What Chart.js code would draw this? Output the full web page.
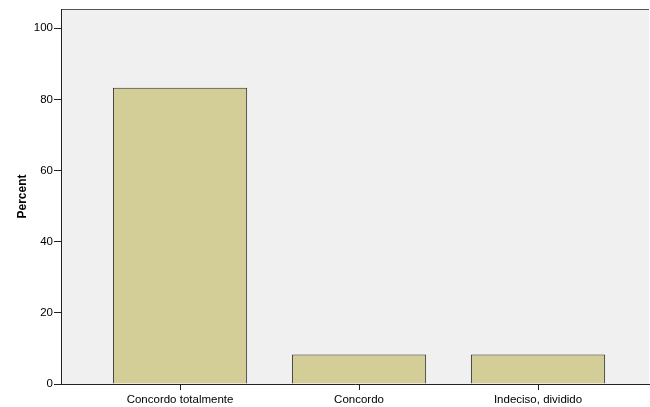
<!DOCTYPE html>
<html>
<head>
<meta charset="utf-8">
<script src="https://cdn.jsdelivr.net/npm/chart.js@4/dist/chart.umd.min.js"></script>
<style>
  html, body { margin: 0; padding: 0; background: #fff; }
  #wrap { width: 650px; height: 407px; }
</style>
</head>
<body>
<div id="wrap"><canvas id="myChart"></canvas></div>
<script>
const categories = ['Concordo totalmente', 'Concordo', 'Indeciso, dividido'];
const percentValues = [83.3, 8.3, 8.3];
const yTicks = [0, 20, 40, 60, 80, 100];

const ctx = document.getElementById('myChart').getContext('2d');

// grey plot background plus the top frame line, SPSS style
const plotFrame = {
    id: 'plotFrame',
    beforeDraw(chart) {
        const a = chart.chartArea;
        const c = chart.ctx;
        c.save();
        c.fillStyle = '#f0f0f0';
        c.fillRect(a.left, a.top, a.right - a.left, a.bottom - a.top);
        c.strokeStyle = '#555555';
        c.lineWidth = 1;
        c.beginPath();
        c.moveTo(a.left, a.top + 0.5);
        c.lineTo(a.right, a.top + 0.5);
        c.stroke();
        c.restore();
    }
};

const myChart = new Chart(ctx, {
    type: 'bar',
    data: {
        datasets: [{
            label: 'Percent',
            data: percentValues.map((v, i) => ({ x: i, y: v })),
            backgroundColor: '#d3ce98',
            borderColor: '#2a2a2a',
            borderWidth: 1,
            categoryPercentage: 1,
            barPercentage: 0.75
        }]
    },
    plugins: [plotFrame],
    options: {
        responsive: true,
        maintainAspectRatio: false,
        animation: false,
        layout: { padding: { top: 9, right: 1, left: 0, bottom: 0 } },
        plugins: {
            legend: { display: false },
            tooltip: { enabled: false }
        },
        scales: {
            x: {
                type: 'linear',
                offset: false,
                min: -0.665,
                max: 2.62,
                afterBuildTicks: (axis) => { axis.ticks = categories.map((_, i) => ({ value: i })); },
                afterFit: (axis) => { axis.height = 23; },
                ticks: {
                    callback: (v) => categories[v],
                    color: '#000',
                    font: { family: 'Liberation Sans', size: 11.5 },
                    padding: 3,
                    maxRotation: 0,
                    autoSkip: false
                },
                grid: { offset: false, drawOnChartArea: false, tickLength: 6, color: '#222' },
                border: { display: true, color: '#222', width: 1 }
            },
            y: {
                min: 0,
                max: 105.4,
                afterBuildTicks: (axis) => { axis.ticks = yTicks.map(v => ({ value: v })); },
                afterFit: (axis) => { axis.width = 61; },
                ticks: {
                    color: '#000',
                    font: { family: 'Liberation Sans', size: 11.5 },
                    padding: 1
                },
                grid: { drawOnChartArea: false, tickLength: 7, color: '#222' },
                border: { display: true, color: '#222', width: 1 },
                title: {
                    display: true,
                    text: 'Percent',
                    color: '#000',
                    font: { family: 'Liberation Sans', size: 12, weight: 'bold' },
                    padding: { top: 15, bottom: 0 }
                }
            }
        }
    }
});
</script>
</body>
</html>
